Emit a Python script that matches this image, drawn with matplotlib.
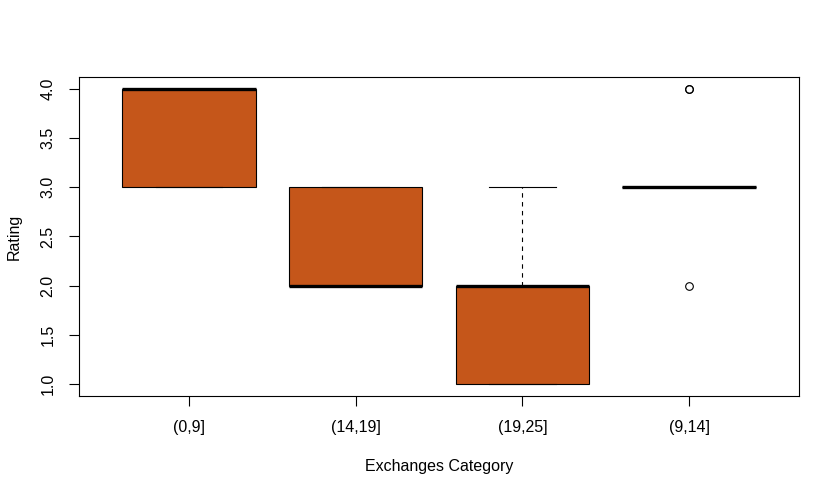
import matplotlib
matplotlib.use("Agg")
import matplotlib.pyplot as plt

categories = ["(0,9]", "(14,19]", "(19,25]", "(9,14]"]
q1 = [3, 2, 1, 3]
median = [4, 2, 2, 3]
q3 = [4, 3, 2, 3]
whislo = [3, 2, 1, 3]
whishi = [4, 3, 3, 3]
fliers = [[], [], [], [4, 4, 2]]

fill = "#C5561A"

plt.rcParams["font.family"] = ["Liberation Sans", "DejaVu Sans"]
fs = 11.5

fig = plt.figure(figsize=(8.4, 4.95), dpi=100)
ax = fig.add_axes([79 / 840, 99 / 495, 720 / 840, 319 / 495])

stats = []
for i in range(len(categories)):
    stats.append(dict(med=median[i], q1=q1[i], q3=q3[i],
                      whislo=whislo[i], whishi=whishi[i],
                      fliers=fliers[i], label=categories[i]))

ax.bxp(stats, positions=range(1, len(categories) + 1), widths=0.8,
       capwidths=0.4, patch_artist=True, showfliers=True,
       boxprops=dict(facecolor=fill, edgecolor="black", linewidth=0.8),
       medianprops=dict(color="black", linewidth=2.4, solid_capstyle="butt"),
       whiskerprops=dict(color="black", linewidth=0.8, linestyle=(0, (4, 4))),
       capprops=dict(color="black", linewidth=0.8),
       flierprops=dict(marker="o", markersize=5.5, markerfacecolor="none",
                       markeredgecolor="black", markeredgewidth=0.8))

ax.set_xlim(0.34, 4.66)
ax.set_ylim(0.88, 4.12)
ax.set_yticks([1.0, 1.5, 2.0, 2.5, 3.0, 3.5, 4.0])
ax.set_yticklabels(["1.0", "1.5", "2.0", "2.5", "3.0", "3.5", "4.0"],
                   rotation=90, va="center")
ax.tick_params(axis="both", direction="out", length=7, width=0.8,
               labelsize=fs)
ax.tick_params(axis="x", pad=10)
ax.tick_params(axis="y", pad=10)
for s in ax.spines.values():
    s.set_linewidth(0.8)

ax.set_xlabel("Exchanges Category", fontsize=fs)
ax.set_ylabel("Rating", fontsize=fs)
ax.xaxis.set_label_coords(0.5, -70 / 319)
ax.yaxis.set_label_coords(-65 / 720, 0.5)
ax.xaxis.label.set_va("center")
ax.yaxis.label.set_va("center")

fig.savefig("out.png", dpi=100)
